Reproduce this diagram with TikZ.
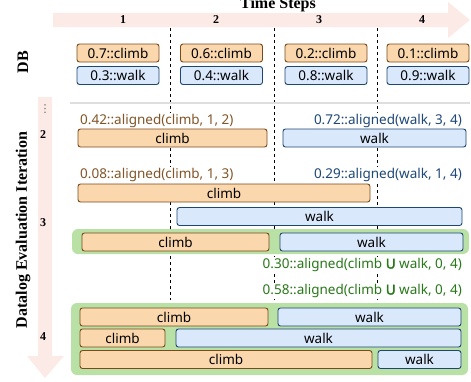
\documentclass[tikz,border=0pt]{standalone}
\usepackage{fontspec}
\setmainfont{Liberation Serif}
\setsansfont{Noto Sans}
\newfontfamily\unionfont{Noto Sans}[FakeBold=3]
\newfontfamily\dotsfont{DejaVu Sans}
\newcommand{\union}{{\unionfont U}}

\definecolor{bandpink}{RGB}{252,234,230}
\definecolor{climbfill}{RGB}{250,215,172}
\definecolor{climbline}{RGB}{122,74,26}
\definecolor{walkfill}{RGB}{218,232,252}
\definecolor{walkline}{RGB}{30,70,115}
\definecolor{mergefill}{RGB}{185,224,165}
\definecolor{climbtxt}{RGB}{130,85,40}
\definecolor{walktxt}{RGB}{30,72,120}
\definecolor{mergetxt}{RGB}{40,120,25}

\tikzset{
  seg/.style={draw, rounded corners=2.5pt, line width=0.9pt, inner sep=0pt,
    minimum height=18pt, font=\sffamily\fontsize{13.5}{15}\selectfont},
  climbbox/.style={seg, fill=climbfill, draw=climbline},
  walkbox/.style={seg, fill=walkfill, draw=walkline},
  prob/.style={fill=white, inner sep=1pt, font=\sffamily\fontsize{13.5}{15}\selectfont},
  merged/.style={fill=mergefill, rounded corners=6pt},
  heading/.style={font=\bfseries\fontsize{16}{18}\selectfont},
  tick/.style={font=\bfseries\fontsize{12}{14}\selectfont},
  sep/.style={dashed, dash pattern=on 3pt off 3pt, line width=0.8pt}
}

\begin{document}
\begin{tikzpicture}[x=1pt, y=-1pt]
  \useasboundingbox (0,0) rectangle (471,381);

  % time axis and iteration axis
  \fill[bandpink] (53,13) -- (448,13) -- (448,2) -- (470,20) -- (448,38)
    -- (448,27) -- (53,27) -- cycle;
  \fill[bandpink] (38,97) -- (52,97) -- (52,356) -- (64,356) -- (45,378)
    -- (27,356) -- (38,356) -- cycle;

  \node[heading, anchor=base] (time) at (278,8) {Time Steps};
  \node[tick] (t1) at (123,20) {1};
  \node[tick] (t2) at (216,20) {2};
  \node[tick] (t3) at (319,20) {3};
  \node[tick] (t4) at (422,20) {4};

  \node[heading, rotate=90] (db) at (23,62) {DB};
  \node[heading, rotate=90] (iter) at (23,230) {Datalog Evaluation Iteration};
  \node[font=\dotsfont\fontsize{11}{12}\selectfont, text=black!60] (idots) at (45,109) {⋮};
  \node[tick] (i2) at (43,135) {2};
  \node[tick] (i3) at (43,223) {3};
  \node[tick] (i4) at (43,337) {4};

  % step borders
  \foreach \x in {170,274,377}
    \draw[sep] (\x,28) -- (\x,300);

  % facts
  \node[climbbox, minimum width=82pt] (c1) at (118,53) {0.7::climb};
  \node[climbbox, minimum width=82pt] (c2) at (221.5,53) {0.6::climb};
  \node[climbbox, minimum width=82pt] (c3) at (326,53) {0.2::climb};
  \node[climbbox, minimum width=82pt] (c4) at (428,53) {0.1::climb};
  \node[walkbox, minimum width=82pt] (w1) at (118,75.5) {0.3::walk};
  \node[walkbox, minimum width=82pt] (w2) at (221.5,75.5) {0.4::walk};
  \node[walkbox, minimum width=82pt] (w3) at (326,75.5) {0.8::walk};
  \node[walkbox, minimum width=82pt] (w4) at (428,75.5) {0.9::walk};

  \draw[line width=2.5pt, black!13] (70,103) -- (470,103);

  % iteration 2
  \node[prob, text=climbtxt, anchor=west] (pa) at (79,121) {0.42::aligned(climb, 1, 2)};
  \node[prob, text=walktxt, anchor=east] (pb) at (463,121) {0.72::aligned(walk, 3, 4)};
  \node[climbbox, minimum width=189pt] (ca) at (172.5,138) {climb};
  \node[walkbox, minimum width=183pt] (wa) at (374.5,138) {walk};

  \node[prob, text=climbtxt, anchor=west] (pc) at (79,175) {0.08::aligned(climb, 1, 3)};
  \node[prob, text=walktxt, anchor=east] (pd) at (463,175) {0.29::aligned(walk, 1, 4)};
  \node[climbbox, minimum width=292pt] (cb) at (224,193) {climb};
  \node[walkbox, minimum width=285pt] (wb) at (319.5,216.5) {walk};

  % iteration 3
  \fill[merged] (72,229) rectangle (469,254);
  \node[climbbox, minimum width=187pt] (cc) at (175.5,242) {climb};
  \node[walkbox, minimum width=183pt] (wc) at (371.5,242) {walk};

  \node[prob, text=mergetxt, anchor=east] (pe) at (463,265)
    {0.30::aligned(climb \union{} walk, 0, 4)};
  \node[prob, text=mergetxt, anchor=east] (pf) at (463,291)
    {0.58::aligned(climb \union{} walk, 0, 4)};

  % iteration 4
  \fill[merged] (71,303) rectangle (468,375);
  \node[climbbox, minimum width=188pt] (cd) at (174,317) {climb};
  \node[walkbox, minimum width=183pt] (wd) at (369.5,317) {walk};
  \node[climbbox, minimum width=85pt] (ce) at (122.5,338) {climb};
  \node[walkbox, minimum width=285pt] (we) at (318.5,338) {walk};
  \node[climbbox, minimum width=292pt] (cf) at (226,359.5) {climb};
  \node[walkbox, minimum width=83pt] (wf) at (419.5,359.5) {walk};
\end{tikzpicture}
\end{document}
